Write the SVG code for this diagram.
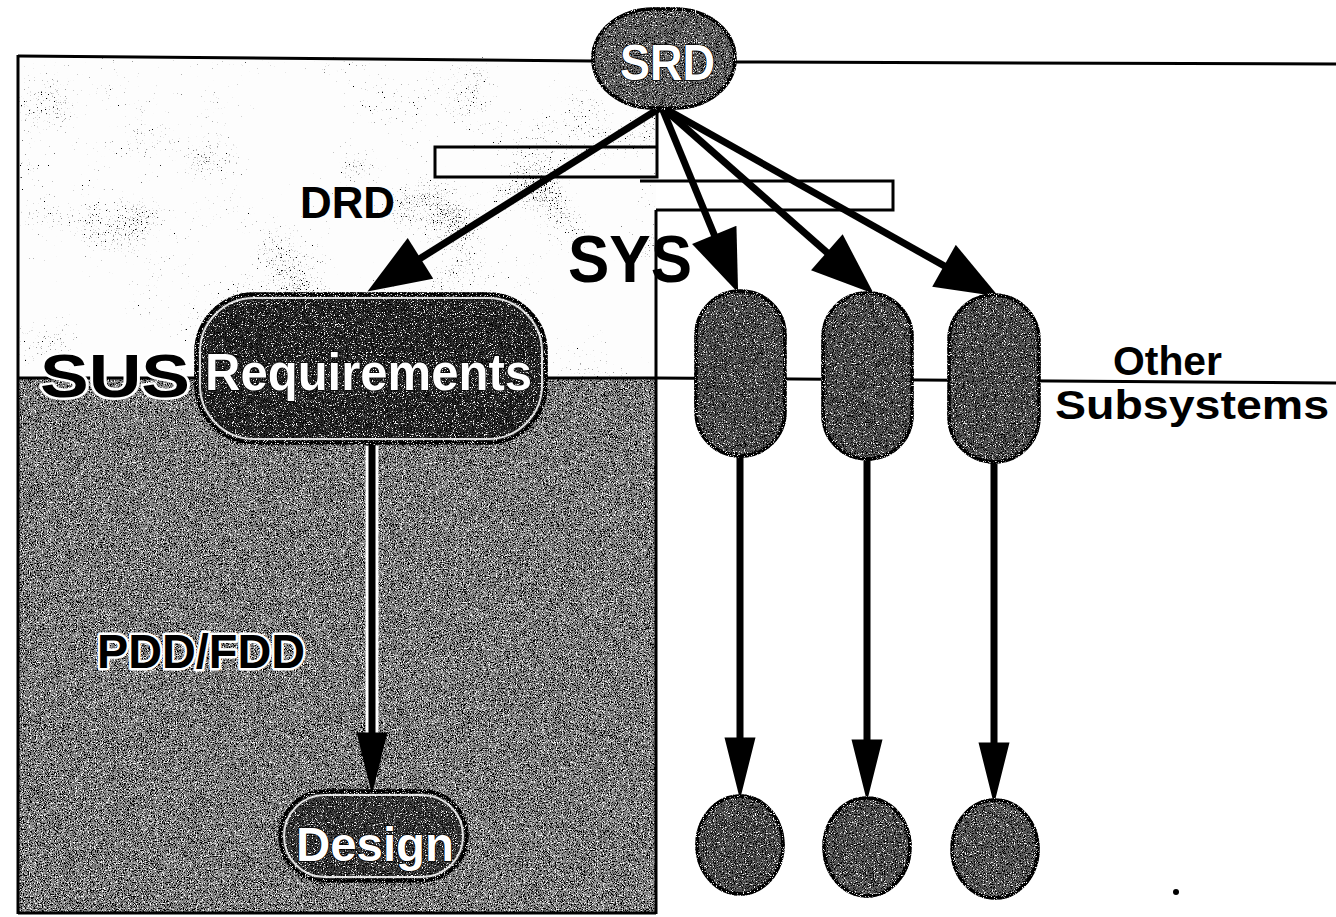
<svg xmlns="http://www.w3.org/2000/svg" width="1336" height="917" viewBox="0 0 1336 917">
<defs>
  <style>
    .frame{fill:none;stroke:#000;stroke-width:3}
    .conn{stroke:#000;stroke-width:7;fill:none}
    .halo{stroke:#fff;stroke-width:13;fill:none}
    .lbl{font-family:"Liberation Sans",Arial,sans-serif;font-weight:bold;fill:#000}
    .halotext{font-family:"Liberation Sans",Arial,sans-serif;font-weight:bold;fill:#000;stroke:#fff;stroke-width:5;paint-order:stroke;stroke-linejoin:round}
    .wtext{font-family:"Liberation Sans",Arial,sans-serif;font-weight:bold;fill:#fff;stroke:#000;stroke-width:1.6;paint-order:stroke}
    .node{stroke:#000;stroke-width:3.5}
    .rim{fill:none;stroke:#fff;stroke-width:2;opacity:.85}
  </style>
  <filter id="speckLight" x="0" y="0" width="1" height="1">
    <feTurbulence type="fractalNoise" baseFrequency="0.75" numOctaves="2" seed="4" result="n"/>
    <feTurbulence type="fractalNoise" baseFrequency="0.012" numOctaves="2" seed="9" result="m"/>
    <feComposite in="n" in2="m" operator="arithmetic" k1="0" k2="0.7" k3="0.5" k4="-0.1" result="nm"/>
    <feColorMatrix in="nm" type="matrix" values="0 0 0 0 0  0 0 0 0 0  0 0 0 0 0  10 0 0 0 -5.95" result="b"/>
    <feComposite in="b" in2="SourceAlpha" operator="in" result="bi"/>
    <feMerge><feMergeNode in="SourceGraphic"/><feMergeNode in="bi"/></feMerge>
  </filter>
  <filter id="speckDark" x="0" y="0" width="1" height="1">
    <feTurbulence type="fractalNoise" baseFrequency="0.85" numOctaves="2" seed="7" result="n"/>
    <feColorMatrix in="n" type="matrix" values="0 0 0 0 0  0 0 0 0 0  0 0 0 0 0  7 0 0 0 -3.2" result="b"/>
    <feComposite in="b" in2="SourceAlpha" operator="in" result="bi"/>
    <feColorMatrix in="n" type="matrix" values="0 0 0 0 1  0 0 0 0 1  0 0 0 0 1  0 -8 0 0 3.3" result="w"/>
    <feComposite in="w" in2="SourceAlpha" operator="in" result="wi"/>
    <feMerge><feMergeNode in="SourceGraphic"/><feMergeNode in="bi"/><feMergeNode in="wi"/></feMerge>
  </filter>
  <filter id="speckNode" x="-5%" y="-5%" width="110%" height="110%">
    <feTurbulence type="fractalNoise" baseFrequency="0.9" numOctaves="2" seed="11" result="n"/>
    <feColorMatrix in="n" type="matrix" values="0 0 0 0 1  0 0 0 0 1  0 0 0 0 1  -9 0 0 0 3.6" result="w"/>
    <feComposite in="w" in2="SourceAlpha" operator="in" result="wi"/>
    <feColorMatrix in="n" type="matrix" values="0 0 0 0 0  0 0 0 0 0  0 0 0 0 0  0 7 0 0 -3.4" result="b"/>
    <feComposite in="b" in2="SourceAlpha" operator="in" result="bi"/>
    <feMerge><feMergeNode in="SourceGraphic"/><feMergeNode in="wi"/><feMergeNode in="bi"/></feMerge>
  </filter>
  <marker id="headDiag" markerUnits="userSpaceOnUse" markerWidth="64" markerHeight="48" viewBox="0 0 60 46" refX="22" refY="23" orient="auto">
    <path d="M0,0 L60,23 L0,46 Z" fill="#000"/>
  </marker>
  <marker id="headVert" markerUnits="userSpaceOnUse" markerWidth="62" markerHeight="32" viewBox="0 0 60 30" refX="18" refY="15" orient="auto">
    <path d="M0,0 L60,15 L0,30 Z" fill="#000"/>
  </marker>
</defs>

<rect width="1336" height="917" fill="#fff"/>

<g id="regions">
  <rect x="18" y="57" width="638" height="322" fill="#fdfdfd" filter="url(#speckLight)"/>
  <rect x="18" y="379" width="638" height="534" fill="#8e8e8e" filter="url(#speckDark)"/>
</g>

<g id="frame" class="frame">
  <path d="M18,56 L592,61"/>
  <path d="M735,62 L1336,64"/>
  <path d="M18,55 V914"/>
  <path d="M18,913 H656"/>
  <path d="M656,210 V914"/>
  <path d="M657,107 V177 H435 V147 H657"/>
  <path d="M640,181 H893 V210 H656"/>
  <path d="M18,378 H656 L1336,383"/>
</g>

<g id="labels">
  <text class="lbl" x="300" y="218" font-size="45" textLength="95" lengthAdjust="spacingAndGlyphs">DRD</text>
  <text class="lbl" x="568" y="282" font-size="66" textLength="124" lengthAdjust="spacingAndGlyphs" fill="#111">SYS</text>
  <text class="halotext" x="40" y="397" font-size="62" textLength="150" lengthAdjust="spacingAndGlyphs">SUS</text>
  <text class="halotext" x="97" y="668" font-size="48" textLength="208" lengthAdjust="spacingAndGlyphs">PDD/FDD</text>
  <text class="lbl" x="1113" y="375" font-size="40" textLength="109" lengthAdjust="spacingAndGlyphs">Other</text>
  <text class="lbl" x="1055" y="419" font-size="40" textLength="274" lengthAdjust="spacingAndGlyphs">Subsystems</text>
</g>

<g id="connectors">
  <line class="halo" x1="372" y1="446" x2="372" y2="752"/>
  <line class="conn" x1="660" y1="108" x2="401" y2="270.5" marker-end="url(#headDiag)"/>
  <line class="conn" x1="662" y1="108" x2="723" y2="256" marker-end="url(#headDiag)"/>
  <line class="conn" x1="663" y1="108" x2="844" y2="267.5" marker-end="url(#headDiag)"/>
  <line class="conn" x1="664" y1="108" x2="964" y2="277" marker-end="url(#headDiag)"/>
  <line class="conn" x1="372" y1="443" x2="372" y2="751" marker-end="url(#headVert)"/>
  <line class="conn" x1="740" y1="455" x2="740" y2="756" marker-end="url(#headVert)"/>
  <line class="conn" x1="867" y1="458" x2="867" y2="758" marker-end="url(#headVert)"/>
  <line class="conn" x1="994" y1="461" x2="994" y2="761" marker-end="url(#headVert)"/>
</g>

<g id="SRD">
  <rect class="node" x="593" y="9" width="142" height="99" rx="60" ry="49" fill="#6a6a6a" filter="url(#speckNode)"/>
  <text class="wtext" x="620" y="80" font-size="50" textLength="95" lengthAdjust="spacingAndGlyphs">SRD</text>
</g>

<g id="Requirements">
  <rect class="node" x="196" y="294" width="350" height="149" rx="58" ry="58" fill="#2a2a2a" filter="url(#speckNode)"/>
  <rect class="rim" x="200" y="298" width="342" height="141" rx="54" ry="54"/>
  <text class="wtext" x="205" y="390" font-size="52" textLength="327" lengthAdjust="spacingAndGlyphs">Requirements</text>
</g>

<g id="Design">
  <rect class="node" x="280" y="791" width="187" height="90" rx="45" ry="45" fill="#3c3c3c" filter="url(#speckNode)"/>
  <rect class="rim" x="284" y="795" width="179" height="82" rx="41" ry="41"/>
  <text class="wtext" x="296" y="861" font-size="48" textLength="158" lengthAdjust="spacingAndGlyphs">Design</text>
</g>

<g id="sub1">
  <rect class="node" x="696" y="291" width="89" height="165" rx="44" ry="44" fill="#555" filter="url(#speckNode)"/>
</g>
<g id="sub2">
  <rect class="node" x="823" y="293" width="89" height="166" rx="44" ry="44" fill="#555" filter="url(#speckNode)"/>
</g>
<g id="sub3">
  <rect class="node" x="949" y="295" width="90" height="167" rx="45" ry="45" fill="#555" filter="url(#speckNode)"/>
</g>

<g id="leaf1">
  <ellipse class="node" cx="740" cy="845" rx="43" ry="49" fill="#555" filter="url(#speckNode)"/>
</g>
<g id="leaf2">
  <ellipse class="node" cx="867" cy="847" rx="43" ry="49" fill="#5a5a5a" filter="url(#speckNode)"/>
</g>
<g id="leaf3">
  <ellipse class="node" cx="995" cy="849" rx="43" ry="49" fill="#5f5f5f" filter="url(#speckNode)"/>
</g>

<circle cx="1176" cy="892" r="3" fill="#000"/>
</svg>
